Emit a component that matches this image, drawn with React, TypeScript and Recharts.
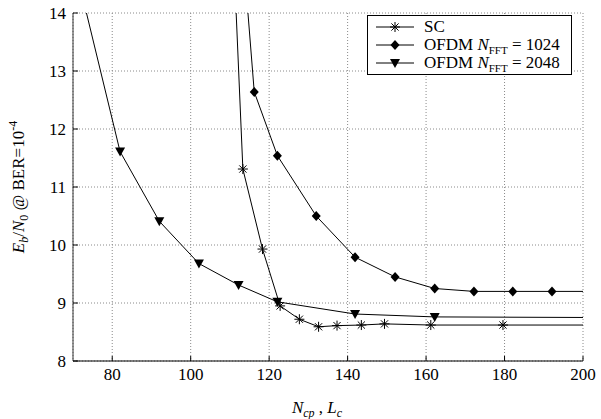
import { LineChart, Line, XAxis, YAxis, CartesianGrid, Legend } from 'recharts';

// SC curve (asterisks); first/last points lie outside the visible window
const scX = [110, 113.3, 118.3, 122.8, 127.7, 132.6, 137.3, 143.5, 149.4, 161.2, 179.6, 220];
const scY = [16.5, 11.31, 9.93, 8.95, 8.72, 8.59, 8.61, 8.62, 8.64, 8.62, 8.62, 8.62];

// OFDM N_FFT = 1024 (diamonds)
const ofdm1024X = [112, 116.2, 122.1, 132, 141.9, 152.1, 162.2, 172.2, 182.1, 192.1, 202];
const ofdm1024Y = [16.2, 12.64, 11.54, 10.5, 9.79, 9.45, 9.25, 9.2, 9.2, 9.2, 9.2];

// OFDM N_FFT = 2048 (triangles)
const ofdm2048X = [72, 82, 92, 102.1, 112.2, 122.1, 141.9, 162.2, 222];
const ofdm2048Y = [14.4, 11.61, 10.41, 9.68, 9.31, 9.02, 8.81, 8.76, 8.745];

const xTicks = [80, 100, 120, 140, 160, 180, 200];
const yTicks = [8, 9, 10, 11, 12, 13, 14];

const FONT = "'Liberation Serif', 'Times New Roman', Times, 'DejaVu Serif', serif";

const toPoints = (xs: number[], ys: number[]) => xs.map((x, i) => ({ x, y: ys[i] }));

const scData = toPoints(scX, scY);
const d1024 = toPoints(ofdm1024X, ofdm1024Y);
const d2048 = toPoints(ofdm2048X, ofdm2048Y);

function Star({ cx, cy, r = 5 }: { cx: number; cy: number; r?: number }) {
  const d = r * 0.72;
  return (
    <g stroke="#000" strokeWidth={1}>
      <line x1={cx - r} y1={cy} x2={cx + r} y2={cy} />
      <line x1={cx} y1={cy - r} x2={cx} y2={cy + r} />
      <line x1={cx - d} y1={cy - d} x2={cx + d} y2={cy + d} />
      <line x1={cx - d} y1={cy + d} x2={cx + d} y2={cy - d} />
    </g>
  );
}

function Diamond({ cx, cy }: { cx: number; cy: number }) {
  return <polygon points={`${cx},${cy - 5} ${cx + 4.5},${cy} ${cx},${cy + 5} ${cx - 4.5},${cy}`} fill="#000" />;
}

function TriDown({ cx, cy }: { cx: number; cy: number }) {
  return <polygon points={`${cx - 5},${cy - 4} ${cx + 5},${cy - 4} ${cx},${cy + 5}`} fill="#000" />;
}

const dotOf = (Shape: any) => (p: any) => {
  if (p.cx == null || p.cy == null) return <g key={p.index} />;
  return <Shape key={p.index} cx={p.cx} cy={p.cy} />;
};

const BottomTick = ({ x, y, payload }: any) => (
  <g>
    <line x1={x} x2={x} y1={y} y2={y - 5} stroke="#000" />
    <text x={x} y={y + 19} textAnchor="middle" style={{ fontFamily: FONT }} fontSize={17} fill="#000">
      {payload.value}
    </text>
  </g>
);

const LeftTick = ({ x, y, payload }: any) => (
  <g>
    <line x1={x} x2={x + 5} y1={y} y2={y} stroke="#000" />
    <text x={x - 7} y={y + 6} textAnchor="end" style={{ fontFamily: FONT }} fontSize={17} fill="#000">
      {payload.value}
    </text>
  </g>
);

const TopTick = ({ x, y }: any) => <line x1={x} x2={x} y1={y} y2={y + 5} stroke="#000" />;
const RightTick = ({ x, y }: any) => <line x1={x} x2={x - 5} y1={y} y2={y} stroke="#000" />;

const YTitle = () => (
  <text
    x={24}
    y={187}
    transform="rotate(-90, 24, 187)"
    textAnchor="middle"
    style={{ fontFamily: FONT }}
    fontSize={17}
    fill="#000"
  >
    <tspan fontStyle="italic">E</tspan>
    <tspan fontStyle="italic" fontSize={12} dy={4}>b</tspan>
    <tspan dy={-4}>/</tspan>
    <tspan fontStyle="italic">N</tspan>
    <tspan fontSize={12} dy={4}>0</tspan>
    <tspan dy={-4}> @ BER=10</tspan>
    <tspan fontSize={12} dy={-7}>-4</tspan>
  </text>
);

const XTitle = () => (
  <text x={317} y={413} textAnchor="middle" style={{ fontFamily: FONT }} fontSize={17} fill="#000">
    <tspan fontStyle="italic">N</tspan>
    <tspan fontStyle="italic" fontSize={12} dy={4}>cp</tspan>
    <tspan dy={-4}> , </tspan>
    <tspan fontStyle="italic">L</tspan>
    <tspan fontStyle="italic" fontSize={12} dy={4}>c</tspan>
  </text>
);

const subStyle = { fontSize: 11, position: 'relative' as const, top: 4 };

const legendRows = [
  { key: 'sc', Shape: Star, label: <>SC</> },
  {
    key: '1024',
    Shape: Diamond,
    label: (
      <>
        OFDM <i>N</i>
        <span style={subStyle}>FFT</span> = 1024
      </>
    ),
  },
  {
    key: '2048',
    Shape: TriDown,
    label: (
      <>
        OFDM <i>N</i>
        <span style={subStyle}>FFT</span> = 2048
      </>
    ),
  },
];

const LegendBox = () => (
  <div
    style={{
      border: '1px solid #000',
      background: '#fff',
      width: 203,
      height: 54,
      boxSizing: 'content-box',
      fontFamily: FONT,
      fontSize: 17,
      paddingTop: 2,
      paddingBottom: 2,
    }}
  >
    {legendRows.map(({ key, Shape, label }) => (
      <div key={key} style={{ display: 'flex', alignItems: 'center', height: 18 }}>
        <svg width={56} height={18} style={{ flex: 'none' }}>
          <line x1={8} x2={46} y1={9} y2={9} stroke="#000" />
          <Shape cx={27} cy={9} />
        </svg>
        <span style={{ lineHeight: '18px', whiteSpace: 'nowrap' }}>{label}</span>
      </div>
    ))}
  </div>
);

export default function App() {
  return (
    <div style={{ position: 'absolute', left: 0, top: 0, background: '#fff' }}>
      <LineChart width={601} height={419} margin={{ top: 13, right: 18, bottom: 0, left: 0 }}>
        <CartesianGrid stroke="#8a8a8a" strokeDasharray="1 2" />
        <XAxis
          dataKey="x"
          type="number"
          domain={[70, 200]}
          ticks={xTicks}
          allowDataOverflow
          height={58}
          tickSize={0}
          tickMargin={0}
          tickLine={false}
          tick={<BottomTick />}
          axisLine={{ stroke: '#000' }}
          label={<XTitle />}
        />
        <XAxis
          xAxisId="top"
          orientation="top"
          type="number"
          domain={[70, 200]}
          ticks={xTicks}
          allowDataOverflow
          height={0}
          tickSize={0}
          tickMargin={0}
          tickLine={false}
          tick={<TopTick />}
          axisLine={{ stroke: '#333' }}
        />
        <YAxis
          type="number"
          domain={[8, 14]}
          ticks={yTicks}
          allowDataOverflow
          width={73}
          tickSize={0}
          tickMargin={0}
          tickLine={false}
          tick={<LeftTick />}
          axisLine={{ stroke: '#333' }}
          label={<YTitle />}
        />
        <YAxis
          yAxisId="right"
          orientation="right"
          type="number"
          domain={[8, 14]}
          ticks={yTicks}
          allowDataOverflow
          width={0}
          tickSize={0}
          tickMargin={0}
          tickLine={false}
          tick={<RightTick />}
          axisLine={{ stroke: '#000' }}
        />
        <Legend
          layout="horizontal"
          verticalAlign="middle"
          align="center"
          wrapperStyle={{ top: 15, left: 367, width: 205, height: 58 }}
          content={<LegendBox />}
        />
        <Line
          data={scData}
          dataKey="y"
          name="SC"
          type="linear"
          stroke="#000"
          strokeWidth={1}
          dot={dotOf(Star)}
          isAnimationActive={false}
        />
        <Line
          data={d1024}
          dataKey="y"
          name="OFDM 1024"
          type="linear"
          stroke="#000"
          strokeWidth={1}
          dot={dotOf(Diamond)}
          isAnimationActive={false}
        />
        <Line
          data={d2048}
          dataKey="y"
          name="OFDM 2048"
          type="linear"
          stroke="#000"
          strokeWidth={1}
          dot={dotOf(TriDown)}
          isAnimationActive={false}
        />
      </LineChart>
    </div>
  );
}
